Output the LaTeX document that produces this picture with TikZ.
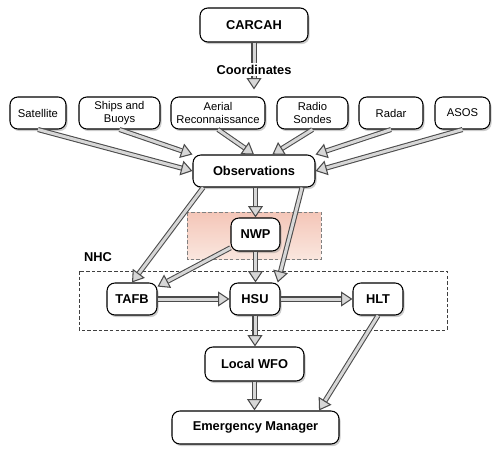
\documentclass[tikz,border=0pt]{standalone}
\usepackage{fontspec}
\setsansfont{Liberation Sans}
\usetikzlibrary{shapes,arrows.meta,shadows,calc}
\definecolor{NwpTop}{RGB}{244,198,184}
\definecolor{NwpBot}{RGB}{250,230,222}
\definecolor{FlowFill}{RGB}{215,215,215}
\definecolor{FlowLine}{RGB}{75,75,75}
\tikzstyle{box} = [rectangle, rounded corners=4.5pt, draw=black, line width=0.6pt, fill=white, text centered, inner sep=0pt, drop shadow={shadow xshift=0.9pt, shadow yshift=-1.2pt, opacity=0.4}, font=\sffamily\bfseries\fontsize{7.3}{8}\selectfont]
\tikzstyle{src} = [box, align=center, font=\sffamily\fontsize{6.4}{7}\selectfont]
\tikzstyle{flow} = [draw=FlowLine, line width=0.6pt, double=FlowFill, double distance=1.7pt, -{Triangle[length=6.5pt, width=8.5pt, fill=FlowFill]}]

\begin{document}
\begin{tikzpicture}
                \useasboundingbox (0,0) rectangle (10,-9.18);
                % NWP band and NHC frame
                \fill[top color=NwpTop, bottom color=NwpBot] (3.74,-4.24) rectangle (6.42,-5.18);
                \draw[gray, dash pattern=on 2pt off 1.2pt] (3.74,-4.24) rectangle (6.42,-5.18);
                \draw[black!75, dash pattern=on 2pt off 1.2pt] (1.58,-5.42) rectangle (8.94,-6.60);
                \node[anchor=center, font=\sffamily\bfseries\fontsize{7.3}{8}\selectfont] (nhc) at (1.96,-5.14) {NHC};

                \node[box, minimum width=2.16cm, minimum height=0.68cm] (carcah) at (5.08,-0.50) {CARCAH};

                \node[src, minimum width=1.12cm, minimum height=0.64cm] (sat) at (0.76,-2.26) {Satellite};
                \node[src, minimum width=1.62cm, minimum height=0.64cm] (ships) at (2.39,-2.26) {Ships and\\Buoys};
                \node[src, minimum width=1.88cm, minimum height=0.64cm] (aerial) at (4.36,-2.26) {Aerial\\Reconnaissance};
                \node[src, minimum width=1.42cm, minimum height=0.64cm] (radio) at (6.25,-2.26) {Radio\\Sondes};
                \node[src, minimum width=1.28cm, minimum height=0.64cm] (radar) at (7.82,-2.26) {Radar};
                \node[src, minimum width=1.10cm, minimum height=0.64cm] (asos) at (9.25,-2.26) {ASOS};

                \node[box, minimum width=2.44cm, minimum height=0.64cm] (obs) at (5.08,-3.42) {Observations};
                \node[box, minimum width=0.98cm, minimum height=0.66cm] (nwp) at (5.11,-4.69) {NWP};

                \node[box, minimum width=1.00cm, minimum height=0.64cm] (tafb) at (2.64,-5.98) {TAFB};
                \node[box, minimum width=1.00cm, minimum height=0.64cm] (hsu) at (5.10,-5.98) {HSU};
                \node[box, minimum width=1.00cm, minimum height=0.64cm] (hlt) at (7.56,-5.98) {HLT};

                \node[box, minimum width=1.98cm, minimum height=0.68cm] (wfo) at (5.09,-7.28) {Local WFO};
                \node[box, minimum width=3.34cm, minimum height=0.66cm] (em) at (5.11,-8.55) {Emergency Manager};

                % connectors
                \draw[flow, shorten >=4pt] (carcah.south) -- node[fill=white, inner sep=1pt, font=\sffamily\bfseries\fontsize{7.3}{8}\selectfont] (coord) {Coordinates} (carcah.south |- aerial.north);
                \draw[flow] (sat.south) -- (obs.west);
                \draw[flow] (ships.south) -- (obs.north west);
                \draw[flow] (aerial.south) -- (obs.north);
                \draw[flow] (radio.south) -- (obs.42);
                \draw[flow] (radar.south) -- (obs.north east);
                \draw[flow] (asos.south) -- (obs.east);
                \draw[flow] (obs.198) -- (tafb.north);
                \draw[flow] (nwp.north |- obs.south) -- (nwp.north);
                \draw[flow] (obs.-19) -- (hsu.36);
                \draw[flow] (nwp.south) -- (nwp.south |- hsu.north);
                \draw[flow] (nwp.208) -- (tafb.26);
                \draw[flow] (tafb.east) -- (hsu.west);
                \draw[flow] (hsu.east) -- (hlt.west);
                \draw[flow] (hsu.south) -- (hsu.south |- wfo.north);
                \draw[flow] (hlt.south) -- (em.15);
                \draw[flow] (wfo.south) -- (wfo.south |- em.north);
\end{tikzpicture}
\end{document}
